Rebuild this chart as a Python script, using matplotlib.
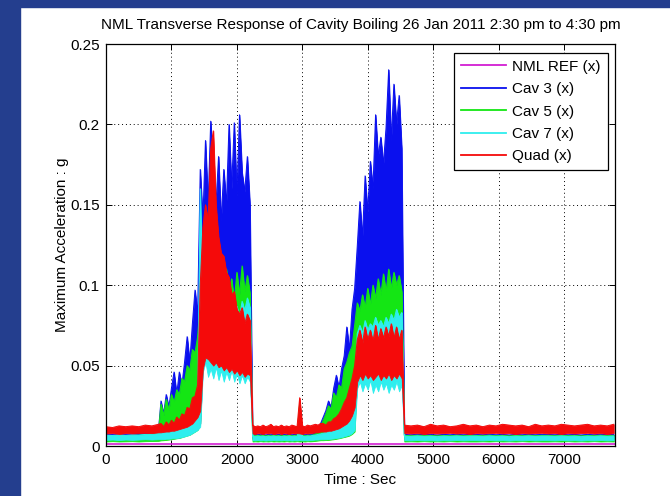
import numpy as np
import matplotlib
matplotlib.use("Agg")
import matplotlib.pyplot as plt
from matplotlib.patches import Rectangle

plt.rcParams['font.family'] = ['Liberation Sans', 'DejaVu Sans']
plt.rcParams['font.size'] = 11

title = "NML Transverse Response of Cavity Boiling 26 Jan 2011 2:30 pm to 4:30 pm"
series_names = ["NML REF (x)", "Cav 3 (x)", "Cav 5 (x)", "Cav 7 (x)", "Quad (x)"]
y_ticks = [0, 0.05, 0.1, 0.15, 0.2, 0.25]
y_tick_labels = ["0", "0.05", "0.1", "0.15", "0.2", "0.25"]
x_ticks = [0, 1000, 2000, 3000, 4000, 5000, 6000, 7000]

# sample times (sec): quiet start, both boiling runs, quiet tail
t_sec = np.concatenate([np.arange(0, 801, 100), np.arange(840, 4521, 40),
                        np.arange(4560, 7761, 100)])

# NML reference stays flat near zero
nml_t = [0, 7780]
nml_ref = [0.0015, 0.0015]

# per channel: upper / lower edge of the trace (g)
cav3_hi = ([0.0075, 0.0072, 0.0078, 0.0074, 0.0076, 0.0078, 0.0080, 0.0085, 0.0090]
           + [0.028, 0.020, 0.032, 0.024, 0.036, 0.046, 0.032, 0.046, 0.038, 0.052, 0.068, 0.052, 0.076, 0.097, 0.082,
              0.172, 0.140, 0.190, 0.150, 0.202, 0.170, 0.150, 0.180, 0.140, 0.172, 0.150, 0.200, 0.160, 0.201, 0.155,
              0.206, 0.170, 0.158, 0.180, 0.150]
           + [0.0072, 0.0070, 0.0073, 0.0070, 0.0072, 0.0069, 0.0072, 0.0070, 0.0073, 0.0070,
              0.0072, 0.0069, 0.0072, 0.0070, 0.0073, 0.0070, 0.0072, 0.0070, 0.0200, 0.0072,
              0.0070, 0.0073, 0.0072, 0.0075, 0.0085, 0.0110, 0.0140]
           + [0.018, 0.022, 0.028, 0.024, 0.036, 0.044, 0.036, 0.048, 0.056, 0.074, 0.060, 0.085, 0.098, 0.124, 0.152,
              0.130, 0.168, 0.145, 0.177, 0.160, 0.206, 0.180, 0.192, 0.175, 0.198, 0.234, 0.190, 0.225, 0.200, 0.218,
              0.185]
           + [0.0072, 0.0070, 0.0073, 0.0070, 0.0072, 0.0069, 0.0072, 0.0070, 0.0073, 0.0070, 0.0072] * 3)
cav3_lo = ([0.0045, 0.0046, 0.0044, 0.0045, 0.0046, 0.0045, 0.0047, 0.0046, 0.0048]
           + [0.0048, 0.0050, 0.0052, 0.0052, 0.0055, 0.0056, 0.0058, 0.0060, 0.0065, 0.0070, 0.0075, 0.0080, 0.0090,
              0.0100, 0.0110,
              0.014, 0.050, 0.052, 0.050, 0.052, 0.050, 0.051, 0.049, 0.050, 0.048, 0.049, 0.047, 0.048, 0.046, 0.047,
              0.045, 0.046, 0.045, 0.046, 0.045]
           + [0.0045, 0.0044, 0.0046, 0.0044, 0.0045, 0.0044, 0.0046, 0.0045, 0.0044, 0.0046] * 2
           + [0.0045, 0.0044, 0.0046, 0.0047, 0.0048, 0.0050, 0.0052]
           + [0.0052, 0.0054, 0.0056, 0.0058, 0.0060, 0.0065, 0.0070, 0.0075, 0.0080, 0.0090, 0.0100, 0.0120, 0.0150,
              0.040, 0.042, 0.040, 0.041, 0.039, 0.041, 0.040, 0.042, 0.039, 0.041, 0.040, 0.042, 0.039, 0.041, 0.040,
              0.042, 0.040, 0.041]
           + [0.0045, 0.0044, 0.0046, 0.0044, 0.0045, 0.0044, 0.0046, 0.0045, 0.0044, 0.0046, 0.0045] * 3)

cav5_hi = ([0.0066, 0.0064, 0.0067, 0.0064, 0.0066, 0.0067, 0.0070, 0.0075, 0.0082]
           + [0.026, 0.019, 0.029, 0.022, 0.032, 0.027, 0.035, 0.032, 0.042, 0.040, 0.050, 0.047, 0.060, 0.058, 0.068,
              0.090, 0.080, 0.100, 0.086, 0.104, 0.090, 0.100, 0.088, 0.105, 0.092, 0.110, 0.094, 0.104, 0.090, 0.108,
              0.094, 0.112, 0.096, 0.106, 0.095]
           + [0.0066, 0.0064, 0.0067, 0.0064, 0.0066, 0.0063, 0.0066, 0.0064, 0.0067, 0.0064,
              0.0066, 0.0063, 0.0066, 0.0064, 0.0067, 0.0064, 0.0066, 0.0064, 0.0270, 0.0066,
              0.0064, 0.0067, 0.0066, 0.0068, 0.0075, 0.0090, 0.0120]
           + [0.016, 0.020, 0.025, 0.023, 0.033, 0.030, 0.038, 0.036, 0.048, 0.052, 0.058, 0.062, 0.075, 0.089, 0.084,
              0.094, 0.086, 0.098, 0.088, 0.100, 0.092, 0.104, 0.094, 0.107, 0.096, 0.110, 0.098, 0.108, 0.100, 0.106,
              0.096]
           + [0.0066, 0.0064, 0.0067, 0.0064, 0.0066, 0.0063, 0.0066, 0.0064, 0.0067, 0.0064, 0.0066] * 3)
cav5_lo = ([0.0028, 0.0030, 0.0028, 0.0029, 0.0030, 0.0028, 0.0030, 0.0031, 0.0032]
           + [0.0035, 0.0036, 0.0038, 0.0040, 0.0042, 0.0045, 0.0048, 0.0050, 0.0055, 0.0060, 0.0065, 0.0070, 0.0080,
              0.0090, 0.0100,
              0.014, 0.052, 0.054, 0.052, 0.053, 0.051, 0.052, 0.050, 0.051, 0.049, 0.050, 0.048, 0.049, 0.047, 0.048,
              0.046, 0.047, 0.046, 0.047, 0.046]
           + [0.0028, 0.0029, 0.0028, 0.0030, 0.0028, 0.0029, 0.0028, 0.0030, 0.0028, 0.0029] * 2
           + [0.0028, 0.0030, 0.0029, 0.0030, 0.0032, 0.0034, 0.0036]
           + [0.0036, 0.0037, 0.0038, 0.0040, 0.0042, 0.0045, 0.0048, 0.0052, 0.0056, 0.0060, 0.0065, 0.0075, 0.0090,
              0.045, 0.047, 0.044, 0.046, 0.045, 0.047, 0.044, 0.046, 0.045, 0.047, 0.044, 0.046, 0.045, 0.047, 0.044,
              0.046, 0.045, 0.046]
           + [0.0028, 0.0029, 0.0028, 0.0030, 0.0028, 0.0029, 0.0028, 0.0030, 0.0028, 0.0029, 0.0028] * 3)

cav7_hi = ([0.0068, 0.0065, 0.0070, 0.0066, 0.0070, 0.0068, 0.0072, 0.0075, 0.0080]
           + [0.0090, 0.0095, 0.0100, 0.0100, 0.0105, 0.0110, 0.0115, 0.0120, 0.0130, 0.0140, 0.0150, 0.0170, 0.0190,
              0.0210, 0.0240,
              0.160, 0.085, 0.090, 0.082, 0.088, 0.080, 0.086, 0.082, 0.088, 0.080, 0.085, 0.079, 0.086, 0.082, 0.087,
              0.080, 0.090, 0.084, 0.092, 0.086]
           + [0.0062, 0.0060, 0.0063, 0.0060, 0.0062, 0.0058, 0.0062, 0.0060, 0.0063, 0.0060,
              0.0062, 0.0058, 0.0062, 0.0060, 0.0063, 0.0060, 0.0062, 0.0060, 0.0110, 0.0062,
              0.0060, 0.0063, 0.0062, 0.0066, 0.0068, 0.0072, 0.0075]
           + [0.0080, 0.0085, 0.0090, 0.0095, 0.0100, 0.0110, 0.0120, 0.0130, 0.0150, 0.0170, 0.0200, 0.0240, 0.0300,
              0.070, 0.075, 0.070, 0.078, 0.072, 0.076, 0.074, 0.080, 0.075, 0.078, 0.074, 0.080, 0.076, 0.082, 0.078,
              0.085, 0.080, 0.083]
           + [0.0062, 0.0060, 0.0063, 0.0060, 0.0062, 0.0058, 0.0062, 0.0060, 0.0063, 0.0060, 0.0062] * 3)
cav7_lo = ([0.0038, 0.0040, 0.0037, 0.0040, 0.0038, 0.0040, 0.0042, 0.0040, 0.0042]
           + [0.0042, 0.0043, 0.0045, 0.0045, 0.0047, 0.0048, 0.0050, 0.0052, 0.0055, 0.0060, 0.0065, 0.0070, 0.0080,
              0.0090, 0.0100,
              0.012, 0.046, 0.052, 0.043, 0.048, 0.042, 0.049, 0.041, 0.047, 0.040, 0.046, 0.041, 0.047, 0.040, 0.045,
              0.039, 0.044, 0.039, 0.043, 0.040]
           + [0.0036, 0.0035, 0.0037, 0.0035, 0.0036, 0.0034, 0.0036, 0.0035, 0.0037, 0.0035] * 2
           + [0.0036, 0.0035, 0.0037, 0.0038, 0.0040, 0.0040, 0.0042]
           + [0.0042, 0.0042, 0.0044, 0.0045, 0.0047, 0.0050, 0.0052, 0.0055, 0.0060, 0.0065, 0.0070, 0.0080, 0.0100,
              0.036, 0.040, 0.034, 0.039, 0.035, 0.041, 0.033, 0.038, 0.034, 0.040, 0.035, 0.039, 0.033, 0.038, 0.035,
              0.040, 0.034, 0.038]
           + [0.0036, 0.0035, 0.0037, 0.0035, 0.0036, 0.0034, 0.0036, 0.0035, 0.0037, 0.0035, 0.0036] * 3)

quad_hi = ([0.0120, 0.0115, 0.0125, 0.0120, 0.0125, 0.0120, 0.0130, 0.0125, 0.0135]
           + [0.014, 0.012, 0.015, 0.013, 0.016, 0.014, 0.018, 0.016, 0.020, 0.019, 0.024, 0.023, 0.030, 0.031, 0.038,
              0.100, 0.136, 0.150, 0.140, 0.185, 0.196, 0.150, 0.130, 0.120, 0.118, 0.108, 0.105, 0.094, 0.096, 0.085,
              0.082, 0.086, 0.076, 0.082, 0.078]
           + [0.0130, 0.0120, 0.0125, 0.0120, 0.0130, 0.0120, 0.0125, 0.0135, 0.0120, 0.0125,
              0.0120, 0.0130, 0.0120, 0.0125, 0.0120, 0.0130, 0.0125, 0.0120, 0.0300, 0.0125,
              0.0120, 0.0130, 0.0125, 0.0130, 0.0135, 0.0130, 0.0140]
           + [0.014, 0.013, 0.015, 0.015, 0.017, 0.018, 0.020, 0.023, 0.027, 0.030, 0.036, 0.042, 0.050, 0.066, 0.072,
              0.064, 0.074, 0.066, 0.072, 0.065, 0.075, 0.066, 0.073, 0.067, 0.074, 0.068, 0.076, 0.067, 0.074, 0.066,
              0.072]
           + [0.0130, 0.0125, 0.0130, 0.0120, 0.0135, 0.0125, 0.0130, 0.0120, 0.0125, 0.0135, 0.0125,
              0.0130, 0.0120, 0.0130, 0.0125, 0.0135, 0.0130, 0.0125, 0.0130, 0.0120, 0.0135, 0.0125,
              0.0130, 0.0125, 0.0135, 0.0130, 0.0125, 0.0130, 0.0135, 0.0125, 0.0130, 0.0125, 0.0135])
quad_lo = ([0.0078, 0.0080, 0.0075, 0.0080, 0.0078, 0.0080, 0.0082, 0.0080, 0.0085]
           + [0.0085, 0.0088, 0.0090, 0.0090, 0.0095, 0.0095, 0.0100, 0.0105, 0.0110, 0.0115, 0.0120, 0.0130, 0.0140,
              0.0160, 0.0180,
              0.022, 0.048, 0.055, 0.054, 0.052, 0.050, 0.052, 0.049, 0.050, 0.047, 0.049, 0.046, 0.048, 0.045, 0.047,
              0.044, 0.046, 0.043, 0.045, 0.044]
           + [0.0078, 0.0075, 0.0080, 0.0078, 0.0075, 0.0080, 0.0078, 0.0080, 0.0075, 0.0078,
              0.0080, 0.0075, 0.0080, 0.0078, 0.0075, 0.0080, 0.0078, 0.0080, 0.0078, 0.0075,
              0.0080, 0.0078, 0.0080, 0.0082, 0.0085, 0.0085, 0.0090]
           + [0.0090, 0.0090, 0.0095, 0.0095, 0.0100, 0.0105, 0.0110, 0.0120, 0.0130, 0.0140, 0.0160, 0.0190, 0.0240,
              0.040, 0.044, 0.041, 0.045, 0.042, 0.044, 0.041, 0.043, 0.045, 0.041, 0.044, 0.042, 0.045, 0.041, 0.044,
              0.042, 0.045, 0.042]
           + [0.0080, 0.0078, 0.0080, 0.0075, 0.0080, 0.0078, 0.0080, 0.0082, 0.0078, 0.0080, 0.0075,
              0.0080, 0.0078, 0.0080, 0.0082, 0.0078, 0.0080, 0.0075, 0.0080, 0.0078, 0.0080, 0.0082,
              0.0078, 0.0080, 0.0075, 0.0080, 0.0078, 0.0080, 0.0082, 0.0078, 0.0080, 0.0075, 0.0080])

for arr in (cav3_hi, cav3_lo, cav5_hi, cav5_lo, cav7_hi, cav7_lo, quad_hi, quad_lo):
    assert len(arr) == len(t_sec), len(arr)

colors = ["#D21ED2", "#0A10EE", "#14E614", "#2EEEEE", "#F50A0A"]

fig = plt.figure(figsize=(6.7, 4.96), dpi=100)
# blue slide border, left and top
fig.patches.append(Rectangle((0, 0), 20 / 670, 1, transform=fig.transFigure, color="#243E8E", zorder=0))
fig.patches.append(Rectangle((0, 1 - 7 / 496), 1, 7 / 496, transform=fig.transFigure, color="#243E8E", zorder=0))

ax = fig.add_axes([106 / 670, 50 / 496, 509 / 670, 402 / 496])

ax.plot(nml_t, nml_ref, color=colors[0], lw=1.2, label=series_names[0], zorder=2)
traces = [(cav3_lo, cav3_hi), (cav5_lo, cav5_hi), (cav7_lo, cav7_hi), (quad_lo, quad_hi)]
z = 3
for (lo, hi), c, name in zip(traces, colors[1:], series_names[1:]):
    ax.fill_between(t_sec, lo, hi, color=c, lw=0.6, zorder=z)
    ax.plot(t_sec, hi, color=c, lw=0.7, label=name, zorder=z + 0.5)
    z += 1

ax.set_xlim(0, 7780)
ax.set_ylim(0, 0.25)
ax.set_xticks(x_ticks)
ax.set_yticks(y_ticks)
ax.set_yticklabels(y_tick_labels)
ax.tick_params(direction="in", length=4, width=0.7, top=True, right=True, labelsize=11)
ax.tick_params(axis="x", pad=5)
ax.tick_params(axis="y", pad=4.5)
ax.grid(True, color="k", linestyle=(0, (1, 3)), linewidth=0.7)
ax.set_axisbelow(True)
for s in ax.spines.values():
    s.set_linewidth(0.9)
    s.set_zorder(10)

fig.text(360.5 / 670, 1 - 25 / 496, title, ha="center", va="center", fontsize=11)
fig.text(360.5 / 670, 1 - 480 / 496, "Time : Sec", ha="center", va="center", fontsize=11)
fig.text(62 / 670, 1 - 245 / 496, "Maximum Acceleration : g", ha="center", va="center",
         rotation=90, fontsize=11)

leg = ax.legend(loc="upper right", bbox_to_anchor=(0.986, 0.978), borderaxespad=0,
                fancybox=False, framealpha=1, edgecolor="k", handlelength=3.0,
                handletextpad=0.4, labelspacing=0.55, borderpad=0.45)
leg.get_frame().set_linewidth(0.9)
leg.set_zorder(20)
for ln in leg.get_lines():
    ln.set_linewidth(1.3)

fig.savefig("out.png", dpi=100)
